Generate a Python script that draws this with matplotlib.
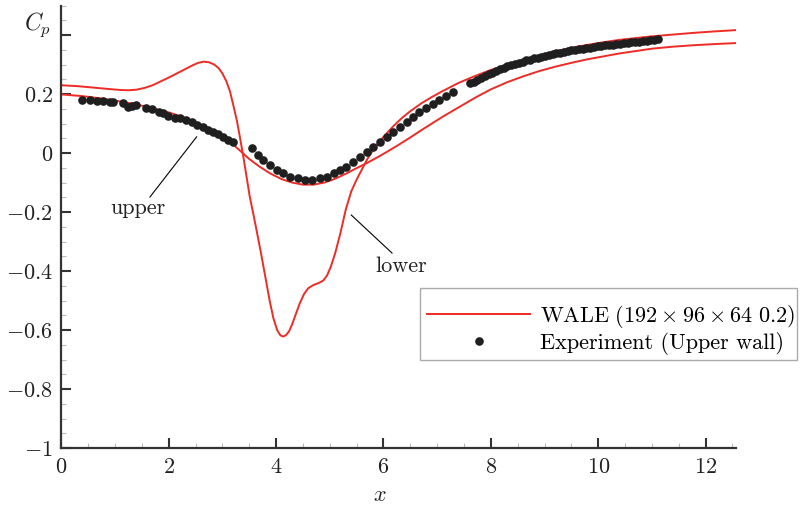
import numpy as np
import matplotlib
matplotlib.use("Agg")
import matplotlib.pyplot as plt
import matplotlib.patches as mpatches
from matplotlib.ticker import MultipleLocator, FixedLocator, FuncFormatter

plt.rcParams["font.family"] = "serif"
plt.rcParams["font.serif"] = ["cmr10"]
plt.rcParams["mathtext.fontset"] = "cm"
plt.rcParams["axes.unicode_minus"] = False

RED = "#ee2b25"
DOT = "#1f1f1f"

# WALE, lower wall (curve with the big dip)
lower_x = [0.0, 0.3, 0.6, 0.9, 1.1, 1.25, 1.4, 1.55, 1.7, 1.85, 2.0, 2.15, 2.3, 2.45,
           2.55, 2.65, 2.75, 2.85, 2.93, 3.0, 3.07, 3.14, 3.2, 3.27, 3.33, 3.39, 3.45,
           3.51, 3.58, 3.64, 3.72, 3.8, 3.88, 3.95, 4.02, 4.08, 4.13, 4.18, 4.24, 4.3,
           4.37, 4.44, 4.52, 4.6, 4.7, 4.8, 4.88, 4.95, 5.02, 5.1, 5.2, 5.3, 5.4, 5.5,
           5.6, 5.7, 5.8, 5.9, 6.0, 6.1, 6.2, 6.35, 6.5, 6.7, 6.9, 7.1, 7.4, 7.7, 8.0,
           8.3, 8.6, 8.9, 9.2, 9.5, 9.8, 10.1, 10.4, 10.7, 11.0, 11.4, 11.8, 12.2, 12.566]
lower_y = [0.230, 0.227, 0.222, 0.217, 0.214, 0.213, 0.215, 0.221, 0.230, 0.243, 0.256, 0.270, 0.284, 0.298,
           0.306, 0.310, 0.308, 0.300, 0.288, 0.270, 0.245, 0.210, 0.165, 0.110, 0.050, -0.012, -0.080,
           -0.148, -0.210, -0.265, -0.340, -0.420, -0.500, -0.560, -0.600, -0.618, -0.622, -0.618, -0.605, -0.580,
           -0.545, -0.510, -0.478, -0.458, -0.447, -0.440, -0.432, -0.415, -0.385, -0.340, -0.270, -0.190, -0.130, -0.090,
           -0.055, -0.020, 0.008, 0.032, 0.055, 0.075, 0.094, 0.120, 0.142, 0.168, 0.190, 0.210, 0.238, 0.261, 0.282,
           0.299, 0.316, 0.331, 0.345, 0.357, 0.367, 0.376, 0.384, 0.390, 0.396, 0.402, 0.408, 0.413, 0.417]

# WALE, upper wall
upper_x = [0.0, 0.4, 0.8, 1.2, 1.6, 2.0, 2.3, 2.6, 2.9, 3.1, 3.3, 3.5, 3.7, 3.9, 4.1,
           4.3, 4.5, 4.7, 4.9, 5.1, 5.3, 5.5, 5.7, 5.9, 6.1, 6.3, 6.5, 6.7, 6.9, 7.1,
           7.4, 7.7, 8.0, 8.3, 8.6, 8.9, 9.2, 9.5, 9.8, 10.1, 10.4, 10.7, 11.0, 11.4,
           11.8, 12.2, 12.566]
upper_y = [0.199, 0.193, 0.184, 0.172, 0.157, 0.138, 0.120, 0.097, 0.068, 0.044, 0.013, -0.020, -0.047, -0.070, -0.088,
           -0.100, -0.107, -0.107, -0.100, -0.087, -0.070, -0.051, -0.033, -0.013, 0.008, 0.030, 0.053, 0.077, 0.100, 0.123,
           0.155, 0.187, 0.216, 0.240, 0.260, 0.278, 0.293, 0.306, 0.318, 0.328, 0.338, 0.346, 0.354, 0.361,
           0.366, 0.370, 0.373]

# experiment, upper wall
exp_x = [0.38, 0.53, 0.66, 0.78, 0.91, 0.97, 1.15, 1.25, 1.31, 1.40, 1.58, 1.68, 1.81, 1.90,
         1.99, 2.12, 2.21, 2.33, 2.43, 2.52, 2.64, 2.74, 2.83, 2.92, 3.01, 3.11, 3.20,
         3.55, 3.67, 3.76, 3.89, 4.01, 4.13, 4.26, 4.41, 4.54, 4.66, 4.82, 4.94, 5.07,
         5.19, 5.31, 5.44, 5.56, 5.69, 5.81, 5.93, 6.06, 6.18, 6.31, 6.43, 6.55, 6.67,
         6.79, 6.92, 7.04, 7.17, 7.30,
         7.61, 7.68, 7.75, 7.82, 7.89, 7.96, 8.03, 8.10, 8.17, 8.24, 8.31, 8.38, 8.45,
         8.52, 8.59, 8.66, 8.73, 8.80, 8.87, 8.94, 9.01, 9.08, 9.15, 9.22, 9.29, 9.36,
         9.43, 9.50, 9.57, 9.64, 9.71, 9.78, 9.85, 9.92, 9.99, 10.06, 10.13, 10.20,
         10.27, 10.34, 10.41, 10.48, 10.55, 10.62, 10.69, 10.76, 10.83, 10.90, 10.97,
         11.04, 11.12]
exp_y = [0.18, 0.18, 0.177, 0.176, 0.174, 0.173, 0.169, 0.157, 0.160, 0.163, 0.154, 0.149, 0.14, 0.135,
         0.126, 0.118, 0.118, 0.112, 0.105, 0.095, 0.089, 0.078, 0.072, 0.064, 0.055, 0.044, 0.038,
         0.016, -0.007, -0.024, -0.041, -0.058, -0.069, -0.08, -0.084, -0.092, -0.092, -0.086, -0.08, -0.069,
         -0.058, -0.046, -0.029, -0.012, 0.004, 0.021, 0.038, 0.055, 0.072, 0.089, 0.106, 0.123, 0.138,
         0.152, 0.166, 0.18, 0.194, 0.206,
         0.236, 0.242, 0.248, 0.255, 0.262, 0.268, 0.273, 0.279, 0.284, 0.289, 0.294, 0.298, 0.302,
         0.306, 0.310, 0.314, 0.317, 0.321, 0.324, 0.327, 0.330, 0.333, 0.336, 0.338, 0.341, 0.343,
         0.346, 0.348, 0.350, 0.352, 0.354, 0.356, 0.358, 0.360, 0.362, 0.364, 0.365, 0.367,
         0.368, 0.370, 0.371, 0.373, 0.374, 0.376, 0.377, 0.378, 0.380, 0.381, 0.383,
         0.384, 0.386]

y_major = [-1.0, -0.8, -0.6, -0.4, -0.2, 0.0, 0.2, 0.4]


def ytick_fmt(v, pos):
    if v > 0.3:
        return ""
    return f"${v:g}$"


fig = plt.figure(figsize=(8.06, 5.12), dpi=100)
ax = fig.add_axes([0.0761, 0.125, 0.837, 0.864])

ax.plot(lower_x, lower_y, color=RED, lw=1.4, zorder=2, solid_joinstyle="round",
        label=r"$\mathrm{WALE}\ (192\times96\times64\ 0.2)$")
ax.plot(upper_x, upper_y, color=RED, lw=1.4, zorder=2, solid_joinstyle="round")
ax.plot(exp_x, exp_y, "o", color=DOT, ms=6.2, mew=0, zorder=3,
        label="Experiment (Upper wall)")

ax.set_xlim(0, 12.566)
ax.set_ylim(-1, 0.5)

ax.xaxis.set_major_locator(MultipleLocator(2))
ax.xaxis.set_minor_locator(MultipleLocator(0.5))
ax.xaxis.set_major_formatter(FuncFormatter(lambda v, p: f"${v:g}$"))
ax.yaxis.set_major_locator(FixedLocator(y_major))
ax.yaxis.set_minor_locator(MultipleLocator(0.05))
ax.yaxis.set_major_formatter(FuncFormatter(ytick_fmt))

ax.tick_params(which="major", direction="in", length=7, width=1.5, color="#333333",
               labelsize=16, labelcolor="#222222")
ax.tick_params(axis="y", which="major", pad=6)
ax.tick_params(axis="x", which="major", pad=7)
ax.tick_params(which="minor", direction="in", length=3.5, width=0.8, color="#bbbbbb")

for s in ["top", "right"]:
    ax.spines[s].set_visible(False)
for s in ["left", "bottom"]:
    ax.spines[s].set_color("#333333")
    ax.spines[s].set_linewidth(1.6)

# annotations
ax.plot([1.65, 2.52], [-0.149, 0.055], color="black", lw=0.8)
ax.text(1.43, -0.186, "upper", fontsize=16, ha="center", va="center", color="#222222")
ax.plot([5.40, 6.16], [-0.21, -0.339], color="black", lw=0.8)
ax.text(6.33, -0.383, "lower", fontsize=16, ha="center", va="center", color="#222222")

fig.text(38 / 806, 1 - 25 / 512, r"$C_p$", fontsize=17, ha="center", va="center", color="#222222")
fig.text(380 / 806, 1 - 495 / 512, r"$x$", fontsize=16, ha="center", va="center", color="#222222")

# legend: frame drawn separately (it sticks out past the axes), entries placed inside it
frame = mpatches.Rectangle((420 / 806, 1 - 360 / 512), 377 / 806, 72 / 512,
                           transform=fig.transFigure, facecolor="white",
                           edgecolor="#aaaaaa", lw=1.0, zorder=5, clip_on=False)
ax.add_patch(frame)
leg = ax.legend(loc="upper left", bbox_to_anchor=(427 / 806, 1 - 303 / 512),
                bbox_transform=fig.transFigure, fontsize=16, frameon=False,
                numpoints=1, handlelength=4.64, handletextpad=0.45, labelspacing=0.1,
                borderpad=0, borderaxespad=0)
leg.set_zorder(6)

fig.savefig("out.png", dpi=100)
